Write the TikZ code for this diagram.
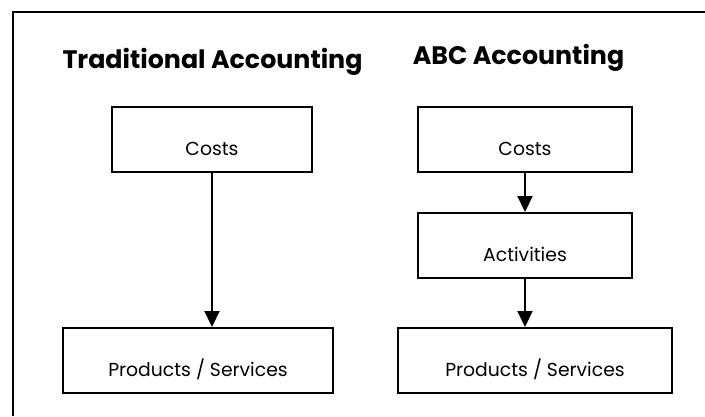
\documentclass[tikz,border=0pt]{standalone}
\usepackage{fontspec}
\setmainfont{Poppins}
\usepackage{tikz}
\usetikzlibrary{arrows.meta, positioning}

\begin{document}
\begin{tikzpicture}[x=1pt, y=-1pt, >={Triangle[width=15pt, length=16pt]}]
    \tikzstyle{box} = [draw, line width=2pt, inner sep=0pt, minimum height=65pt,
                       text height=32pt, text depth=0pt, font=\fontsize{18.8}{22}\selectfont]
    \tikzstyle{heading} = [anchor=base, font=\fontsize{25.3}{30}\selectfont\bfseries]
    \tikzstyle{link} = [->, line width=2pt]
    \useasboundingbox (0,0) rectangle (705,416);
    % frame
    \draw[line width=2pt] (705,12) -- (13,12) -- (13,416);
    % traditional costing
    \node [heading] at (212.5,68) (tradtitle) {Traditional Accounting};
    \node [box, minimum width=200pt] at (212,139.5) (tcosts) {Costs};
    \node [box, minimum width=270pt] at (198,360.5) (tprod) {Products / Services};
    \draw[link] (tcosts.south) to (tcosts.south |- tprod.north);
    % activity based costing
    \node [heading] at (518.5,64) (abctitle) {ABC Accounting};
    \node [box, minimum width=214pt] at (525,139.5) (acosts) {Costs};
    \node [box, minimum width=214pt, below =39pt of acosts] (aact) {Activities};
    \node [box, minimum width=274pt] at (535,360.5) (aprod) {Products / Services};
    \draw[link] (acosts.south) to (aact.north);
    \draw[link] (aact.south) to (aact.south |- aprod.north);
\end{tikzpicture}
\end{document}
